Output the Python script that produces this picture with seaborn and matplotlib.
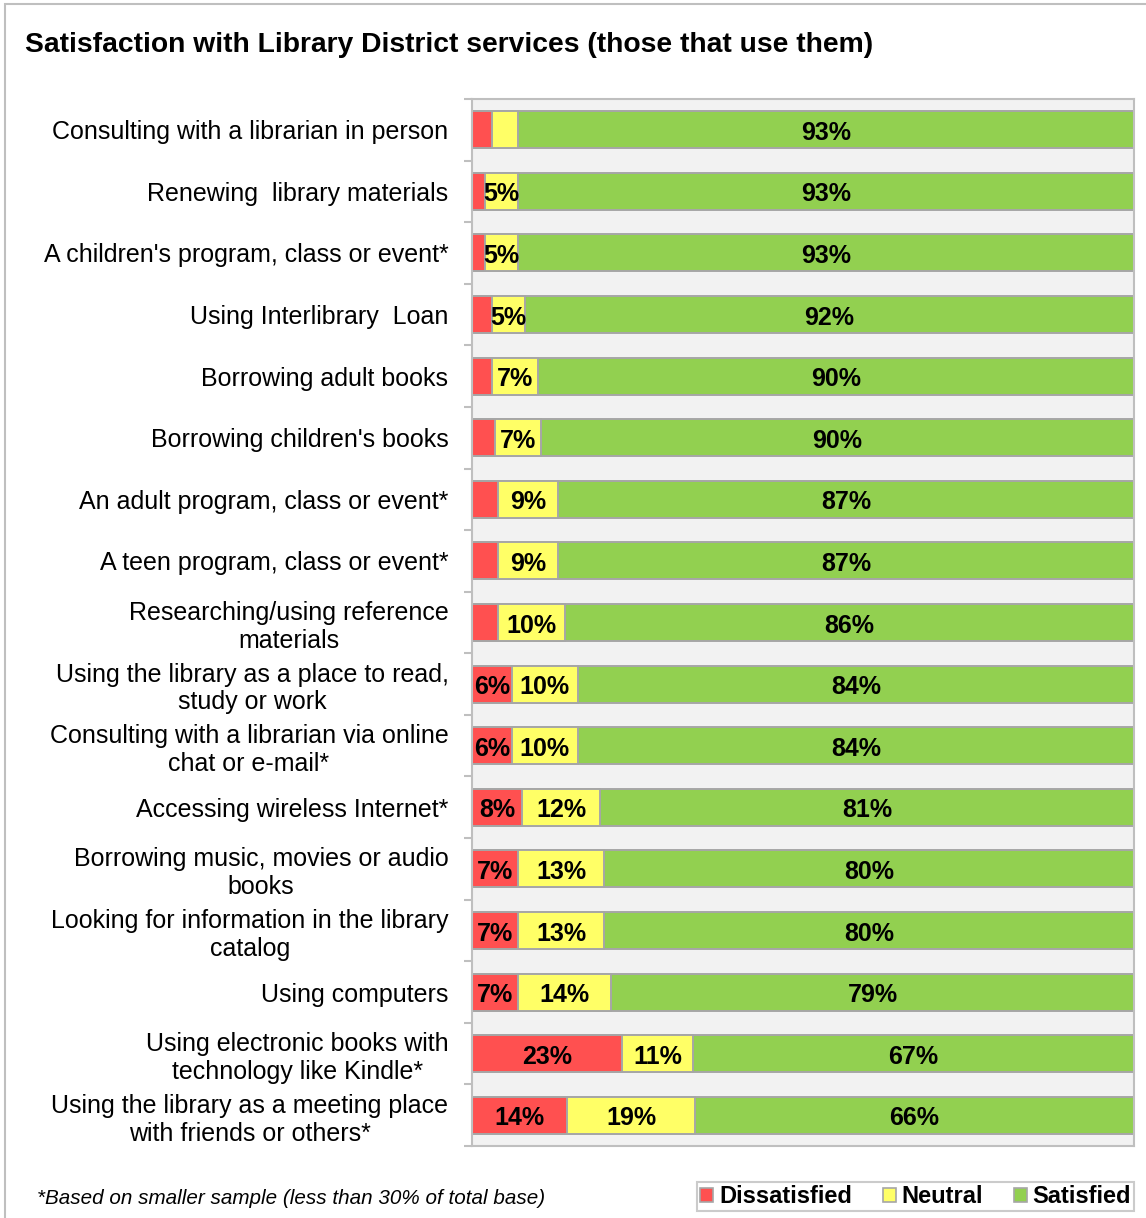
import matplotlib
matplotlib.use("Agg")
import matplotlib.pyplot as plt
from matplotlib.patches import Patch, Rectangle
from matplotlib.ticker import FixedLocator
import numpy as np
import pandas as pd
import seaborn as sns

services = [
    "Consulting with a librarian in person",
    "Renewing  library materials",
    "A children's program, class or event*",
    "Using Interlibrary  Loan",
    "Borrowing adult books",
    "Borrowing children's books",
    "An adult program, class or event*",
    "A teen program, class or event*",
    "Researching/using reference\nmaterials",
    "Using the library as a place to read,\nstudy or work",
    "Consulting with a librarian via online\nchat or e-mail*",
    "Accessing wireless Internet*",
    "Borrowing music, movies or audio\nbooks",
    "Looking for information in the library\ncatalog",
    "Using computers",
    "Using electronic books with\ntechnology like Kindle*",
    "Using the library as a meeting place\nwith friends or others*",
]
dissatisfied = [3, 2, 2, 3, 3, 3.5, 4, 4, 4, 6, 6, 7.6, 7, 7, 7, 22.6, 14.4]
neutral = [4, 5, 5, 5, 7, 6.9, 9, 9, 10, 10, 10, 11.7, 13, 13, 14, 10.8, 19.3]
satisfied = [93, 93, 93, 92, 90, 89.6, 87, 87, 86, 84, 84, 80.7, 80, 80, 79, 66.6, 66.3]

series_names = ["Dissatisfied", "Neutral", "Satisfied"]
colors = {"Dissatisfied": "#FF5050", "Neutral": "#FFFF66", "Satisfied": "#92D050"}
edge = "#A6A6A6"

sns.set_theme(style="white")
plt.rcParams["font.family"] = ["Liberation Sans", "DejaVu Sans"]
plt.rcParams["text.color"] = "black"
plt.rcParams["ytick.color"] = "black"
plt.rcParams["xtick.color"] = "black"

df = pd.DataFrame({
    "service": services,
    "Dissatisfied": dissatisfied,
    "Neutral": neutral,
    "Satisfied": satisfied,
})
df["end_d"] = df["Dissatisfied"]
df["end_n"] = df["end_d"] + df["Neutral"]
df["end_s"] = df["end_n"] + df["Satisfied"]

W, H = 1146, 1218
fig = plt.figure(figsize=(W / 100, H / 100), dpi=100)
ax = fig.add_axes([472 / W, 1 - 1146 / H, (1134 - 472) / W, (1146 - 99) / H])
ax.set_facecolor("#F2F2F2")

# stacked bars: draw cumulative totals from the longest to the shortest
for col, name in [("end_s", "Satisfied"), ("end_n", "Neutral"), ("end_d", "Dissatisfied")]:
    sns.barplot(data=df, y="service", x=col, orient="h", color=colors[name],
                saturation=1, edgecolor=edge, linewidth=1.4, width=0.6, ax=ax)

n = len(services)
ax.set_xlim(0, 100)
ax.set_ylim(n - 0.5, -0.5)
ax.set_xlabel("")
ax.set_ylabel("")
ax.set_xticks([])

# segment value labels
for i in range(n):
    starts = [0, df["end_d"][i], df["end_n"][i]]
    vals = [dissatisfied[i], neutral[i], satisfied[i]]
    for s, v in zip(starts, vals):
        if v >= 5:
            ax.text(s + v / 2, i + 0.05, f"{v:.0f}%", ha="center", va="center",
                    fontsize=18, fontweight="bold", color="black")

# category labels
ax.set_yticks(range(n))
ax.set_yticklabels(services, fontsize=18, color="black")
for t in ax.get_yticklabels():
    t.set_multialignment("center")
    t.set_linespacing(1.2)
ax.tick_params(axis="y", which="major", length=0, pad=17)
ax.yaxis.set_minor_locator(FixedLocator(np.arange(-0.5, n, 1.0)))
ax.tick_params(axis="y", which="minor", length=6, width=1.5, color="#BFBFBF", left=True)

for side in ["left", "right", "top", "bottom"]:
    ax.spines[side].set_color("#BFBFBF")
    ax.spines[side].set_linewidth(1.5)

fig.text(25 / W, 1 - 45 / H,
         "Satisfaction with Library District services (those that use them)",
         fontsize=20.3, fontweight="bold", ha="left", va="center")
fig.text(37 / W, 1 - 1199 / H,
         "*Based on smaller sample (less than 30% of total base)",
         fontsize=14.9, fontstyle="italic", ha="left", va="center")

handles = [Patch(facecolor=colors[s], edgecolor=edge, linewidth=1.2) for s in series_names]
leg = fig.legend(handles, series_names, loc="lower right", ncol=3,
                 bbox_to_anchor=(1134 / W, 1 - 1211 / H),
                 prop={"size": 17, "weight": "bold"}, frameon=True, fancybox=False,
                 edgecolor="#BFBFBF", handlelength=0.55, handleheight=0.55,
                 handletextpad=0.25, columnspacing=1.3, borderpad=0.12,
                 borderaxespad=0)
leg.get_frame().set_linewidth(1.5)

# outer chart border
fig.patches.append(Rectangle((5 / W, -0.1), 1.2, 1 - 4 / H + 0.1,
                             transform=fig.transFigure, fill=False,
                             edgecolor="#BFBFBF", linewidth=1.5))

fig.savefig("out.png", dpi=100, facecolor="white")
